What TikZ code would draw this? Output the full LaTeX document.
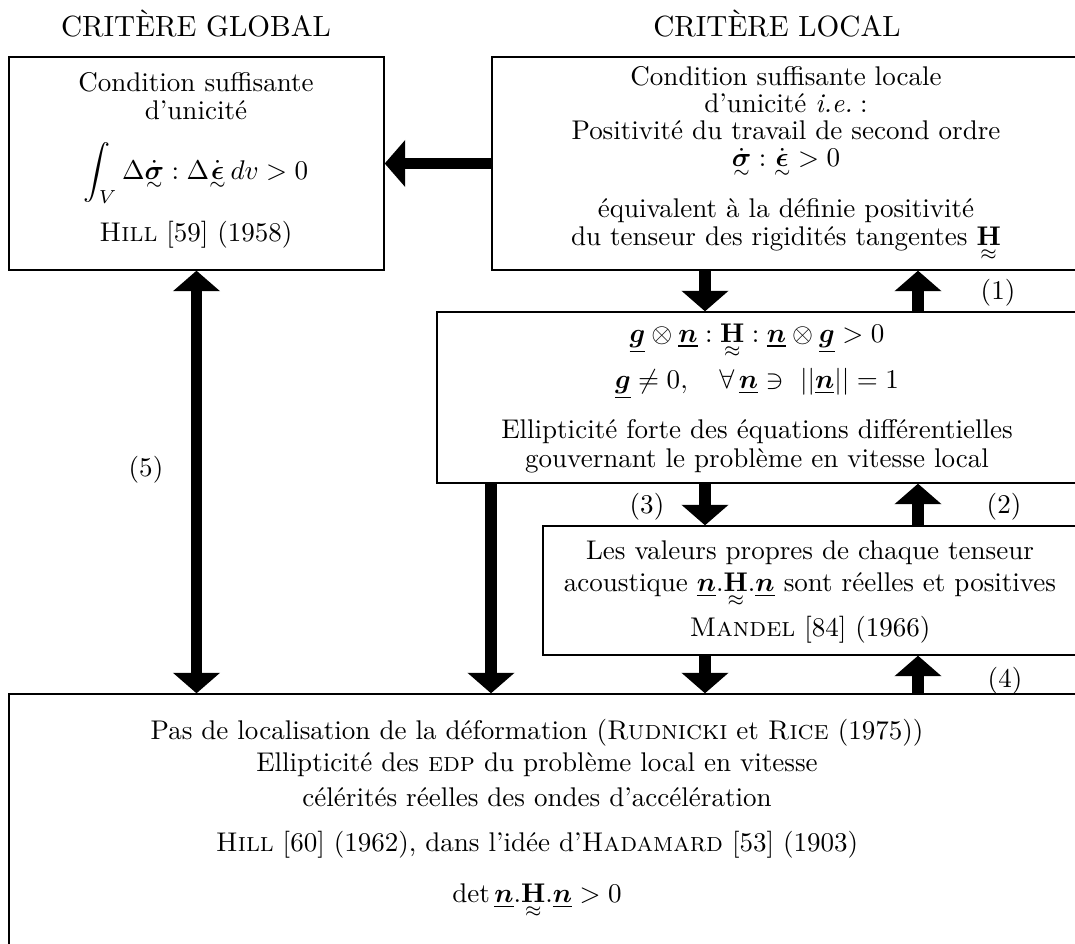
\documentclass[tikz,border=0pt]{standalone}
\usepackage{amsmath,amssymb}
\usetikzlibrary{arrows.meta,fit}

\newcommand{\tens}[1]{\mathord{\vtop{\offinterlineskip\halign{\hfil##\hfil\cr$\boldsymbol{#1}$\cr\noalign{\kern1.3pt}$\scriptstyle\sim$\cr}}}}
\newcommand{\tensq}[1]{\mathord{\vtop{\offinterlineskip\halign{\hfil##\hfil\cr$\mathbf{#1}$\cr\noalign{\kern1.5pt}$\scriptstyle\approx$\cr}}}}
\newcommand{\vect}[1]{\underline{\boldsymbol{#1}}}

\begin{document}
\begin{tikzpicture}[x=0.37pt,y=-0.37pt,
    boite/.style={draw,line width=0.5pt,inner sep=0pt},
    texte/.style={inner sep=0pt,align=center},
    fleche/.style={line width=4.4pt,-{Triangle[length=7.6pt,width=17pt]}},
    titre/.style={inner sep=0pt,font=\fontsize{10.8}{13}\selectfont}]
  \clip (0,0) rectangle (1075,944);
  % titres
  \node[titre] (tg) at (196,24) {CRITÈRE GLOBAL};
  \node[titre] (tl) at (777,24) {CRITÈRE LOCAL};
  % cadres
  \node[boite,fit={(9,57) (384,270)}] (A) {};
  \node[boite,fit={(492,57) (1080,270)}] (B) {};
  \node[boite,fit={(437,312) (1080,483)}] (C) {};
  \node[boite,fit={(543,526) (1080,655)}] (D) {};
  \node[boite,fit={(9,694) (1080,950)}] (E) {};
  % critere global
  \node[texte] (a1) at (196,82) {Condition suffisante};
  \node[texte] (a2) at (196,110) {d'unicité};
  \node[texte] (a3) at (196,173) {$\displaystyle\int_V \Delta\dot{\tens{\sigma}} : \Delta\dot{\tens{\epsilon}}\,dv > 0$};
  \node[texte] (a4) at (196,235) {\textsc{Hill} [59] (1958)};
  % critere local
  \node[texte] (b1) at (786,76) {Condition suffisante locale};
  \node[texte] (b2) at (786,103) {d'unicité \textit{i.e.}\;:};
  \node[texte] (b3) at (786,130) {Positivité du travail de second ordre};
  \node[texte] (b4) at (786,163) {$\dot{\tens{\sigma}} : \dot{\tens{\epsilon}} > 0$};
  \node[texte] (b5) at (786,211) {équivalent à la définie positivité};
  \node[texte] (b6) at (786,243) {du tenseur des rigidités tangentes $\tensq{H}$};
  % ellipticite forte
  \node[texte] (c1) at (757,340) {$\vect{g}\otimes\vect{n} : \tensq{H} : \vect{n}\otimes\vect{g} > 0$};
  \node[texte] (c2) at (757,384) {$\vect{g}\neq 0,\quad \forall\,\vect{n}\ni\ ||\vect{n}|| = 1$};
  \node[texte] (c3) at (757,432) {Ellipticité forte des équations différentielles};
  \node[texte] (c4) at (757,461) {gouvernant le problème en vitesse local};
  % tenseur acoustique
  \node[texte] (d1) at (810,553) {Les valeurs propres de chaque tenseur};
  \node[texte] (d2) at (810,589) {acoustique $\vect{n}.\tensq{H}.\vect{n}$ sont réelles et positives};
  \node[texte] (d3) at (810,630) {\textsc{Mandel} [84] (1966)};
  % localisation
  \node[texte] (e1) at (537,733) {Pas de localisation de la déformation (\textsc{Rudnicki} et \textsc{Rice} (1975))};
  \node[texte] (e2) at (537,765) {Ellipticité des \textsc{edp} du problème local en vitesse};
  \node[texte] (e3) at (537,797) {célérités réelles des ondes d'accélération};
  \node[texte] (e4) at (537,845) {\textsc{Hill} [60] (1962), dans l'idée d'\textsc{Hadamard} [53] (1903)};
  \node[texte] (e5) at (537,900) {$\det\vect{n}.\tensq{H}.\vect{n} > 0$};
  % fleches
  \coordinate (xg) at (705,0);
  \coordinate (xd) at (918,0);
  \coordinate (xc) at (491,0);
  \draw[fleche] (B.west) -- (A.east);
  \draw[fleche] (B.south -| xg) -- (C.north -| xg);
  \draw[fleche] (C.north -| xd) -- (B.south -| xd);
  \draw[fleche] (C.south -| xg) -- (D.north -| xg);
  \draw[fleche] (D.north -| xd) -- (C.south -| xd);
  \draw[fleche] (D.south -| xg) -- (E.north -| xg);
  \draw[fleche] (E.north -| xd) -- (D.south -| xd);
  \draw[fleche] (C.south -| xc) -- (E.north -| xc);
  \draw[fleche,{Triangle[length=7.6pt,width=17pt]}-{Triangle[length=7.6pt,width=17pt]}] (A.south) -- (E.north -| A.south);
  % numeros
  \node (n1) at (998,293) {(1)};
  \node (n2) at (1004,507) {(2)};
  \node (n3) at (647,507) {(3)};
  \node (n4) at (1005,681) {(4)};
  \node (n5) at (146,470) {(5)};
\end{tikzpicture}
\end{document}
